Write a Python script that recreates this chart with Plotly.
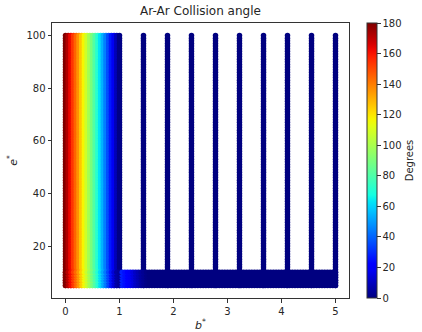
import plotly.graph_objects as go

# ---------------- data ----------------
# fine impact-parameter columns (b* from 0 to 1) and their collision angle (degrees)
b_fine = [0.00, 0.05, 0.10, 0.15, 0.20, 0.25, 0.30, 0.35, 0.40, 0.45, 0.50,
          0.55, 0.60, 0.65, 0.70, 0.75, 0.80, 0.85, 0.90, 0.95, 1.00]
deg_fine = [180, 172, 163, 154, 145, 136, 126, 117, 108, 99, 90,
            81, 72, 63, 54, 45, 36, 27, 18, 9, 1]

# coarse columns (b* > 1), angle ~ 0
b_coarse = [1.444, 1.889, 2.333, 2.778, 3.222, 3.667, 4.111, 4.556, 5.000]
deg_coarse = [0, 0, 0, 0, 0, 0, 0, 0, 0]

# reduced energies sampled for the columns
e_main = list(range(5, 101))

# low-energy band (e* 5..10) sampled densely in b*
e_low = [5, 6, 7, 8, 9, 10]
b_low = [round(0.05 * i, 2) for i in range(0, 101)]
deg_low = ([180, 171, 162, 153, 144, 135, 125, 116, 107, 98, 89,
            80, 71, 62, 53, 44, 35, 26, 14, 6, 4,
            28, 25, 22, 19, 15, 11, 8, 5, 3, 1]
           + [0] * 70)

# ---------------- build point lists ----------------
xs, ys, cs = [], [], []
for b, d in zip(b_fine + b_coarse, deg_fine + deg_coarse):
    for e in e_main:
        xs.append(b); ys.append(e); cs.append(d)
for e in e_low:
    for b, d in zip(b_low, deg_low):
        xs.append(b); ys.append(e); cs.append(d)

# matplotlib 'jet' colormap
def _interp(pts, t):
    for (x0, y0), (x1, y1) in zip(pts[:-1], pts[1:]):
        if x0 <= t <= x1:
            return y0 if x1 == x0 else y0 + (y1 - y0) * (t - x0) / (x1 - x0)
    return pts[-1][1]

R = [(0, 0), (0.35, 0), (0.66, 1), (0.89, 1), (1, 0.5)]
G = [(0, 0), (0.125, 0), (0.375, 1), (0.64, 1), (0.91, 0), (1, 0)]
B = [(0, 0.5), (0.11, 1), (0.34, 1), (0.65, 0), (1, 0)]
jet = []
for i in range(41):
    t = i / 40
    jet.append([t, "rgb(%d,%d,%d)" % (round(255 * _interp(R, t)),
                                      round(255 * _interp(G, t)),
                                      round(255 * _interp(B, t)))])

FONT = "DejaVu Sans"
AX = "#333333"

fig = go.Figure(go.Scatter(
    x=xs, y=ys, mode="markers",
    marker=dict(size=5.5, color=cs, colorscale=jet, cmin=0, cmax=180,
                line=dict(width=0),
                colorbar=dict(
                    title=dict(text="Degrees", side="right",
                               font=dict(family=FONT, size=10, color="#262626")),
                    x=1.06, xanchor="left", xpad=0, y=0.5, yanchor="middle",
                    len=1.0, lenmode="fraction", ypad=0, thickness=10,
                    outlinewidth=1, outlinecolor=AX,
                    tickvals=[0, 20, 40, 60, 80, 100, 120, 140, 160, 180],
                    ticks="outside", ticklen=3.5, tickcolor=AX,
                    tickfont=dict(family=FONT, size=10, color="#262626"))),
    hoverinfo="skip", showlegend=False))

axis_common = dict(showgrid=False, zeroline=False, showline=True, linecolor=AX,
                   linewidth=1, mirror=True, ticks="outside", ticklen=3.5,
                   tickcolor=AX, automargin=False,
                   tickfont=dict(family=FONT, size=10, color="#262626"))

fig.update_xaxes(range=[-0.25, 5.25], tickvals=[0, 1, 2, 3, 4, 5],
                 title=dict(text="<i>b</i><sup>*</sup>", standoff=7,
                            font=dict(family=FONT, size=11, color="#262626")),
                 **axis_common)
fig.update_yaxes(range=[0.25, 104.75], tickvals=[20, 40, 60, 80, 100],
                 title=dict(text="<i>e</i><sup>*</sup>", standoff=6,
                            font=dict(family=FONT, size=11, color="#262626")),
                 **axis_common)

fig.update_layout(
    width=422, height=332,
    margin=dict(l=52, r=73, t=23, b=34, pad=0, autoexpand=False),
    paper_bgcolor="white", plot_bgcolor="white",
    title=dict(text="Ar-Ar Collision angle", x=0.5, xref="paper",
               y=1 - 11 / 332, yanchor="middle",
               font=dict(family=FONT, size=12, color="#262626")),
)

fig.write_html("out.html")
